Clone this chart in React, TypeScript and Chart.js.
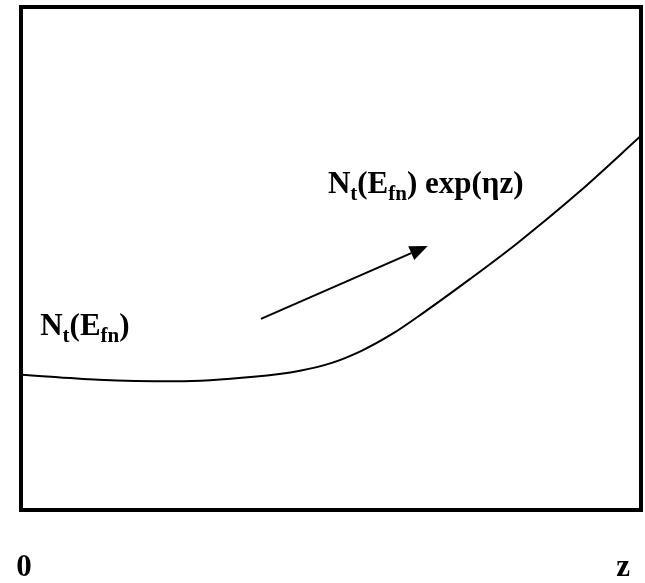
import { useEffect, useRef } from "react";
import { Chart, registerables } from "chart.js";

Chart.register(...registerables);

// Normalised depth z (0..10) and the trap density profile along it
const zValues = [0, 1.25, 2.5, 3.75, 4.5, 5.0, 5.5, 6.0, 6.5, 7.25, 8.0, 9.0, 10];
const trapDensity = [2.69, 2.59, 2.56, 2.65, 2.77, 2.92, 3.17, 3.51, 3.93, 4.6, 5.3, 6.32, 7.44];

// Axis end labels drawn under the frame
const axisTickLabels = ["0", "z"];
const axisTickPositions = [0.05, 9.71];
const axisTickLevel = -1.31;

// Arrow indicating the growth direction (data units)
const arrowFrom = [3.87, 3.8];
const arrowTo = [6.56, 5.25];

type Seg = { text: string; sub?: boolean };
const surfaceLabel: Seg[] = [
  { text: "N" },
  { text: "t", sub: true },
  { text: "(E" },
  { text: "fn", sub: true },
  { text: ")" },
];
const growthLabel: Seg[] = [
  { text: "N" },
  { text: "t", sub: true },
  { text: "(E" },
  { text: "fn", sub: true },
  { text: ") exp(ηz)" },
];
const surfaceLabelAt = [0.31, 3.48];
const growthLabelAt = [4.95, 6.3];

const FONT_FAMILY = "'Liberation Serif', 'DejaVu Serif', serif";
const MAIN_SIZE = 31;
const SUB_SIZE = 21;

function drawRich(ctx: CanvasRenderingContext2D, segs: Seg[], x: number, y: number) {
  let cx = x;
  for (const s of segs) {
    ctx.font = `bold ${s.sub ? SUB_SIZE : MAIN_SIZE}px ${FONT_FAMILY}`;
    ctx.fillText(s.text, cx, s.sub ? y + 7 : y);
    cx += ctx.measureText(s.text).width;
  }
}

const annotations = {
  id: "annotations",
  afterDraw(chart: any) {
    const { ctx, chartArea, scales } = chart;
    const xs = scales.x;
    const ys = scales.y;
    ctx.save();
    // frame
    ctx.strokeStyle = "#000";
    ctx.lineWidth = 4;
    ctx.strokeRect(chartArea.left, chartArea.top, chartArea.right - chartArea.left, chartArea.bottom - chartArea.top);

    // arrow
    const x0 = xs.getPixelForValue(arrowFrom[0]);
    const y0 = ys.getPixelForValue(arrowFrom[1]);
    const x1 = xs.getPixelForValue(arrowTo[0]);
    const y1 = ys.getPixelForValue(arrowTo[1]);
    const ang = Math.atan2(y1 - y0, x1 - x0);
    const headLen = 18;
    const headHalf = 7.5;
    const bx = x1 - headLen * Math.cos(ang);
    const by = y1 - headLen * Math.sin(ang);
    ctx.lineWidth = 2;
    ctx.beginPath();
    ctx.moveTo(x0, y0);
    ctx.lineTo(bx, by);
    ctx.stroke();
    ctx.fillStyle = "#000";
    ctx.beginPath();
    ctx.moveTo(x1, y1);
    ctx.lineTo(bx + headHalf * Math.sin(ang), by - headHalf * Math.cos(ang));
    ctx.lineTo(bx - headHalf * Math.sin(ang), by + headHalf * Math.cos(ang));
    ctx.closePath();
    ctx.fill();

    // labels
    ctx.textBaseline = "alphabetic";
    ctx.textAlign = "left";
    drawRich(ctx, surfaceLabel, xs.getPixelForValue(surfaceLabelAt[0]), ys.getPixelForValue(surfaceLabelAt[1]));
    drawRich(ctx, growthLabel, xs.getPixelForValue(growthLabelAt[0]), ys.getPixelForValue(growthLabelAt[1]));

    ctx.textAlign = "center";
    ctx.font = `bold ${MAIN_SIZE}px ${FONT_FAMILY}`;
    axisTickLabels.forEach((t, i) => {
      ctx.fillText(t, xs.getPixelForValue(axisTickPositions[i]), ys.getPixelForValue(axisTickLevel));
    });
    ctx.restore();
  },
};

export default function App() {
  const ref = useRef<HTMLCanvasElement | null>(null);
  useEffect(() => {
    if (!ref.current) return;
    const chart = new Chart(ref.current, {
      type: "line",
      data: {
        datasets: [
          {
            data: zValues.map((z, i) => ({ x: z, y: trapDensity[i] })),
            borderColor: "#000",
            borderWidth: 2,
            pointRadius: 0,
            cubicInterpolationMode: "monotone",
            fill: false,
          },
        ],
      },
      options: {
        animation: false,
        responsive: false,
        layout: { padding: { left: 21, right: 4, top: 7, bottom: 73 } },
        plugins: { legend: { display: false }, tooltip: { enabled: false } },
        scales: {
          x: { type: "linear", min: 0, max: 10, display: false },
          y: { type: "linear", min: 0, max: 10, display: false },
        },
      },
      plugins: [annotations],
    });
    return () => chart.destroy();
  }, []);
  return (
    <div style={{ position: "absolute", left: 0, top: 0, width: 645, height: 583, background: "#fff" }}>
      <canvas ref={ref} width={645} height={583} />
    </div>
  );
}
